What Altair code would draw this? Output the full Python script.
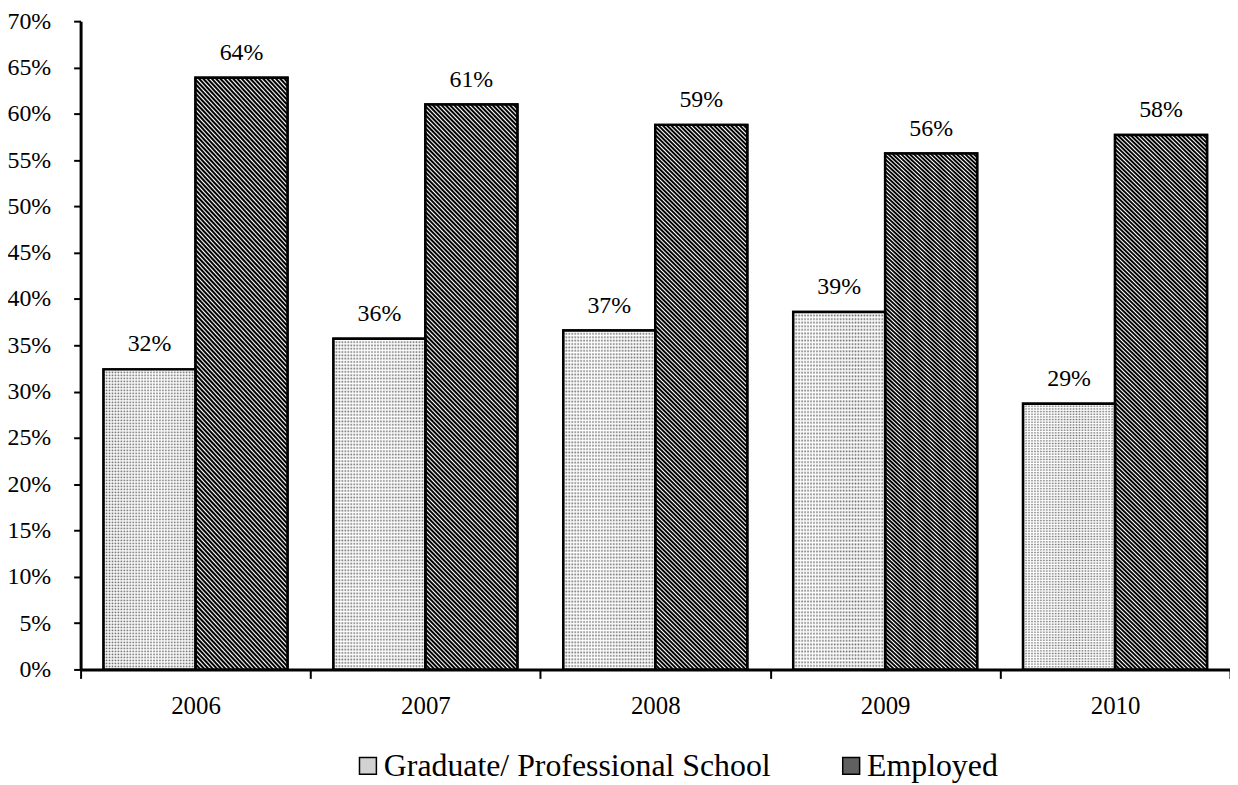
import altair as alt
import pandas as pd

years = ["2006", "2007", "2008", "2009", "2010"]
series = ["Graduate/ Professional School", "Employed"]
graduate = [0.324, 0.357, 0.366, 0.386, 0.287]
employed = [0.639, 0.610, 0.588, 0.557, 0.577]
y_ticks = [round(i * 0.05, 2) for i in range(15)]

rows = []
for i, yr in enumerate(years):
    rows.append({"year": yr, "series": series[0], "value": graduate[i]})
    rows.append({"year": yr, "series": series[1], "value": employed[i]})
df = pd.DataFrame(rows)

FONT = "Liberation Serif"


def wave(n, c1, c2, x1, y1, x2, y2, hold=0.0, mid=0.5):
    stops = []
    for k in range(n):
        stops.append(alt.GradientStop(color=c1, offset=k / n))
        if hold > 0:
            stops.append(alt.GradientStop(color=c1, offset=(k + hold) / n))
        stops.append(alt.GradientStop(color=c2, offset=(k + mid) / n))
    stops.append(alt.GradientStop(color=c1, offset=1.0))
    return alt.LinearGradient(gradient="linear", stops=stops,
                              x1=x1, y1=y1, x2=x2, y2=y2)


# textures (styles only)
stripes = wave(150, "#000000", "#ffffff", 0, 1, 0.19, -0.135, hold=0.3, mid=0.65)
dot_rows = wave(100, "#6a6a6a", "#ffffff", 0, 0, 0, 1)
dot_cols = wave(31, "rgba(255,255,255,0)", "rgba(255,255,255,0.95)", 0, 0, 1, 0)

x_enc = alt.X(
    "year:N",
    title=None,
    scale=alt.Scale(paddingInner=0, paddingOuter=0),
    axis=alt.Axis(
        labelAngle=0, labelFont=FONT, labelFontSize=25, labelColor="black",
        labelPadding=15, tickBand="extent", tickSize=9, tickWidth=2,
        tickColor="black", domainColor="black", domainWidth=3, grid=False,
    ),
)
xoff = alt.XOffset("series:N", sort=series,
                   scale=alt.Scale(domain=series, paddingInner=0, paddingOuter=0.25))
y_enc = alt.Y(
    "value:Q",
    title=None,
    scale=alt.Scale(domain=[0, 0.7], nice=False),
    axis=alt.Axis(
        values=y_ticks, format=".0%", labelFont=FONT, labelFontSize=24,
        labelColor="black", labelPadding=23, tickSize=7, tickWidth=2,
        tickColor="black", domainColor="black", domainWidth=3, grid=False,
    ),
)

base = alt.Chart(df).encode(x=x_enc, xOffset=xoff, y=y_enc)

legend_bars = base.mark_bar(stroke="black", strokeWidth=2.5).encode(
    fill=alt.Fill(
        "series:N",
        sort=series,
        scale=alt.Scale(domain=series, range=["#d2d2d2", "#606060"]),
        legend=alt.Legend(
            title=None, orient="none", legendX=273, legendY=733,
            direction="horizontal", symbolType="square", symbolSize=289,
            symbolStrokeColor="black", symbolStrokeWidth=1.5,
            labelFont=FONT, labelFontSize=32, labelColor="black",
            labelLimit=500, columnPadding=64, labelOffset=0,
        ),
    ),
)

grad_rows = base.transform_filter(alt.datum.series == series[0]).mark_bar(fill=dot_rows, strokeWidth=0)
grad_cols = base.transform_filter(alt.datum.series == series[0]).mark_bar(fill=dot_cols, strokeWidth=0)
emp_stripes = base.transform_filter(alt.datum.series == series[1]).mark_bar(fill=stripes, strokeWidth=0)
outline = base.mark_bar(fill="transparent", stroke="black", strokeWidth=2.5)

labels = base.mark_text(
    font=FONT, fontSize=24, color="black", baseline="alphabetic", dy=-18
).encode(text=alt.Text("value:Q", format=".0%"))

chart = (
    alt.layer(legend_bars, grad_rows, grad_cols, emp_stripes, outline, labels)
    .properties(
        width=1156, height=652,
        background="white",
        view=alt.ViewBackground(stroke="transparent", strokeWidth=0),
        autosize=alt.AutoSizeParams(type="none"),
        padding={"left": 73, "top": 11, "right": 0, "bottom": 114},
    )
    .configure_view(stroke="transparent", strokeWidth=0)
    .configure_axis(grid=False)
)

chart.save("out.html", embed_options={"renderer": "svg", "actions": False})
